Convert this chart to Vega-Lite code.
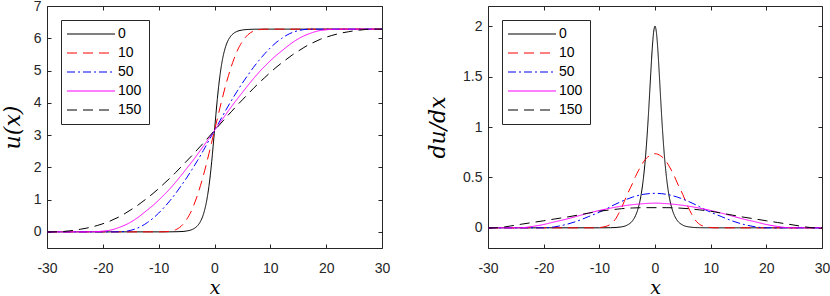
{
"$schema": "https://vega.github.io/schema/vega-lite/v6.json",
"background": "white",
"padding": {"left": 0, "top": -2, "right": 5, "bottom": 0},
"datasets": {
"u": [
{"t":"0","x":-30,"y":0},{"t":"0","x":-10,"y":0.0002},{"t":"0","x":-8,"y":0.0013},{"t":"0","x":-6,"y":0.0099},{"t":"0","x":-5,"y":0.027},{"t":"0","x":-4,"y":0.073},{"t":"0","x":-3.5,"y":0.121},{"t":"0","x":-3,"y":0.199},{"t":"0","x":-2.5,"y":0.327},{"t":"0","x":-2,"y":0.538},{"t":"0","x":-1.5,"y":0.878},{"t":"0","x":-1.25,"y":1.116},{"t":"0","x":-1,"y":1.41},{"t":"0","x":-0.75,"y":1.764},{"t":"0","x":-0.5,"y":2.181},{"t":"0","x":-0.25,"y":2.648},{"t":"0","x":0,"y":3.142},{"t":"0","x":0.25,"y":3.636},{"t":"0","x":0.5,"y":4.102},{"t":"0","x":0.75,"y":4.519},{"t":"0","x":1,"y":4.873},{"t":"0","x":1.25,"y":5.168},{"t":"0","x":1.5,"y":5.405},{"t":"0","x":2,"y":5.745},{"t":"0","x":2.5,"y":5.956},{"t":"0","x":3,"y":6.084},{"t":"0","x":3.5,"y":6.162},{"t":"0","x":4,"y":6.21},{"t":"0","x":5,"y":6.256},{"t":"0","x":6,"y":6.273},{"t":"0","x":8,"y":6.282},{"t":"0","x":10,"y":6.283},{"t":"0","x":30,"y":6.283},
{"t":"10","x":-30,"y":0},{"t":"10","x":-11,"y":0},{"t":"10","x":-10,"y":0.0002},{"t":"10","x":-9,"y":0.002},{"t":"10","x":-8,"y":0.017},{"t":"10","x":-7,"y":0.062},{"t":"10","x":-6,"y":0.172},{"t":"10","x":-5,"y":0.382},{"t":"10","x":-4,"y":0.702},{"t":"10","x":-3.5,"y":0.922},{"t":"10","x":-3,"y":1.162},{"t":"10","x":-2.5,"y":1.442},{"t":"10","x":-2,"y":1.742},{"t":"10","x":-1.5,"y":2.072},{"t":"10","x":-1,"y":2.422},{"t":"10","x":-0.5,"y":2.782},{"t":"10","x":0,"y":3.142},{"t":"10","x":0.5,"y":3.502},{"t":"10","x":1,"y":3.862},{"t":"10","x":1.5,"y":4.212},{"t":"10","x":2,"y":4.542},{"t":"10","x":2.5,"y":4.842},{"t":"10","x":3,"y":5.122},{"t":"10","x":3.5,"y":5.362},{"t":"10","x":4,"y":5.582},{"t":"10","x":5,"y":5.902},{"t":"10","x":6,"y":6.112},{"t":"10","x":7,"y":6.222},{"t":"10","x":8,"y":6.267},{"t":"10","x":9,"y":6.282},{"t":"10","x":10,"y":6.283},{"t":"10","x":30,"y":6.283},
{"t":"50","x":-30,"y":0},{"t":"50","x":-18,"y":0},{"t":"50","x":-17,"y":0.002},{"t":"50","x":-16,"y":0.015},{"t":"50","x":-15,"y":0.047},{"t":"50","x":-14,"y":0.102},{"t":"50","x":-13,"y":0.182},{"t":"50","x":-12,"y":0.292},{"t":"50","x":-11,"y":0.422},{"t":"50","x":-10,"y":0.582},{"t":"50","x":-9,"y":0.762},{"t":"50","x":-8,"y":0.962},{"t":"50","x":-7,"y":1.182},{"t":"50","x":-6,"y":1.422},{"t":"50","x":-5,"y":1.672},{"t":"50","x":-4,"y":1.942},{"t":"50","x":-3,"y":2.222},{"t":"50","x":-2,"y":2.522},{"t":"50","x":-1,"y":2.832},{"t":"50","x":0,"y":3.142},{"t":"50","x":1,"y":3.452},{"t":"50","x":2,"y":3.762},{"t":"50","x":3,"y":4.062},{"t":"50","x":4,"y":4.342},{"t":"50","x":5,"y":4.612},{"t":"50","x":6,"y":4.862},{"t":"50","x":7,"y":5.102},{"t":"50","x":8,"y":5.322},{"t":"50","x":9,"y":5.522},{"t":"50","x":10,"y":5.702},{"t":"50","x":11,"y":5.862},{"t":"50","x":12,"y":5.992},{"t":"50","x":13,"y":6.102},{"t":"50","x":14,"y":6.182},{"t":"50","x":15,"y":6.237},{"t":"50","x":16,"y":6.269},{"t":"50","x":17,"y":6.282},{"t":"50","x":18,"y":6.283},{"t":"50","x":30,"y":6.283},
{"t":"100","x":-30,"y":0},{"t":"100","x":-23,"y":0},{"t":"100","x":-22,"y":0.002},{"t":"100","x":-21,"y":0.007},{"t":"100","x":-20,"y":0.022},{"t":"100","x":-19,"y":0.042},{"t":"100","x":-18,"y":0.082},{"t":"100","x":-17,"y":0.142},{"t":"100","x":-16,"y":0.212},{"t":"100","x":-15,"y":0.302},{"t":"100","x":-14,"y":0.412},{"t":"100","x":-13,"y":0.542},{"t":"100","x":-12,"y":0.682},{"t":"100","x":-11,"y":0.822},{"t":"100","x":-10,"y":0.982},{"t":"100","x":-9,"y":1.152},{"t":"100","x":-8,"y":1.332},{"t":"100","x":-7,"y":1.532},{"t":"100","x":-6,"y":1.742},{"t":"100","x":-5,"y":1.962},{"t":"100","x":-4,"y":2.182},{"t":"100","x":-3,"y":2.412},{"t":"100","x":-2,"y":2.652},{"t":"100","x":-1,"y":2.897},{"t":"100","x":0,"y":3.142},{"t":"100","x":1,"y":3.387},{"t":"100","x":2,"y":3.632},{"t":"100","x":3,"y":3.872},{"t":"100","x":4,"y":4.102},{"t":"100","x":5,"y":4.322},{"t":"100","x":6,"y":4.542},{"t":"100","x":7,"y":4.752},{"t":"100","x":8,"y":4.952},{"t":"100","x":9,"y":5.132},{"t":"100","x":10,"y":5.302},{"t":"100","x":11,"y":5.462},{"t":"100","x":12,"y":5.602},{"t":"100","x":13,"y":5.742},{"t":"100","x":14,"y":5.872},{"t":"100","x":15,"y":5.982},{"t":"100","x":16,"y":6.072},{"t":"100","x":17,"y":6.142},{"t":"100","x":18,"y":6.202},{"t":"100","x":19,"y":6.242},{"t":"100","x":20,"y":6.262},{"t":"100","x":21,"y":6.277},{"t":"100","x":22,"y":6.282},{"t":"100","x":23,"y":6.283},{"t":"100","x":30,"y":6.283},
{"t":"150","x":-30,"y":0},{"t":"150","x":-29,"y":0},{"t":"150","x":-28,"y":0.002},{"t":"150","x":-27,"y":0.012},{"t":"150","x":-26,"y":0.032},{"t":"150","x":-25,"y":0.052},{"t":"150","x":-24,"y":0.082},{"t":"150","x":-23,"y":0.112},{"t":"150","x":-22,"y":0.152},{"t":"150","x":-21,"y":0.197},{"t":"150","x":-20,"y":0.252},{"t":"150","x":-19,"y":0.312},{"t":"150","x":-18,"y":0.392},{"t":"150","x":-17,"y":0.472},{"t":"150","x":-16,"y":0.572},{"t":"150","x":-15,"y":0.682},{"t":"150","x":-14,"y":0.792},{"t":"150","x":-13,"y":0.922},{"t":"150","x":-12,"y":1.052},{"t":"150","x":-11,"y":1.192},{"t":"150","x":-10,"y":1.342},{"t":"150","x":-9,"y":1.502},{"t":"150","x":-8,"y":1.662},{"t":"150","x":-7,"y":1.832},{"t":"150","x":-6,"y":2.012},{"t":"150","x":-5,"y":2.192},{"t":"150","x":-4,"y":2.372},{"t":"150","x":-3,"y":2.562},{"t":"150","x":-2,"y":2.752},{"t":"150","x":-1,"y":2.947},{"t":"150","x":0,"y":3.142},{"t":"150","x":1,"y":3.337},{"t":"150","x":2,"y":3.532},{"t":"150","x":3,"y":3.722},{"t":"150","x":4,"y":3.912},{"t":"150","x":5,"y":4.092},{"t":"150","x":6,"y":4.272},{"t":"150","x":7,"y":4.452},{"t":"150","x":8,"y":4.622},{"t":"150","x":9,"y":4.782},{"t":"150","x":10,"y":4.942},{"t":"150","x":11,"y":5.092},{"t":"150","x":12,"y":5.232},{"t":"150","x":13,"y":5.362},{"t":"150","x":14,"y":5.492},{"t":"150","x":15,"y":5.602},{"t":"150","x":16,"y":5.712},{"t":"150","x":17,"y":5.812},{"t":"150","x":18,"y":5.892},{"t":"150","x":19,"y":5.972},{"t":"150","x":20,"y":6.032},{"t":"150","x":21,"y":6.087},{"t":"150","x":22,"y":6.132},{"t":"150","x":23,"y":6.172},{"t":"150","x":24,"y":6.202},{"t":"150","x":25,"y":6.232},{"t":"150","x":26,"y":6.252},{"t":"150","x":27,"y":6.272},{"t":"150","x":28,"y":6.282},{"t":"150","x":29,"y":6.283},{"t":"150","x":30,"y":6.283}
],
"du": [
{"t":"0","x":-30,"y":0},{"t":"0","x":-10,"y":0.0002},{"t":"0","x":-8,"y":0.0013},{"t":"0","x":-6,"y":0.0099},{"t":"0","x":-5,"y":0.027},{"t":"0","x":-4,"y":0.073},{"t":"0","x":-3.5,"y":0.121},{"t":"0","x":-3,"y":0.199},{"t":"0","x":-2.5,"y":0.326},{"t":"0","x":-2,"y":0.532},{"t":"0","x":-1.75,"y":0.674},{"t":"0","x":-1.5,"y":0.85},{"t":"0","x":-1.25,"y":1.059},{"t":"0","x":-1,"y":1.296},{"t":"0","x":-0.75,"y":1.545},{"t":"0","x":-0.5,"y":1.774},{"t":"0","x":-0.25,"y":1.939},{"t":"0","x":0,"y":2},{"t":"0","x":0.25,"y":1.939},{"t":"0","x":0.5,"y":1.774},{"t":"0","x":0.75,"y":1.545},{"t":"0","x":1,"y":1.296},{"t":"0","x":1.25,"y":1.059},{"t":"0","x":1.5,"y":0.85},{"t":"0","x":1.75,"y":0.674},{"t":"0","x":2,"y":0.532},{"t":"0","x":2.5,"y":0.326},{"t":"0","x":3,"y":0.199},{"t":"0","x":3.5,"y":0.121},{"t":"0","x":4,"y":0.073},{"t":"0","x":5,"y":0.027},{"t":"0","x":6,"y":0.0099},{"t":"0","x":8,"y":0.0013},{"t":"0","x":10,"y":0.0002},{"t":"0","x":30,"y":0},
{"t":"10","x":-30,"y":0},{"t":"10","x":-11,"y":0},{"t":"10","x":-10,"y":0.003},{"t":"10","x":-9,"y":0.012},{"t":"10","x":-8,"y":0.035},{"t":"10","x":-7.5,"y":0.06},{"t":"10","x":-7,"y":0.095},{"t":"10","x":-6.5,"y":0.145},{"t":"10","x":-6,"y":0.2},{"t":"10","x":-5.5,"y":0.265},{"t":"10","x":-5,"y":0.33},{"t":"10","x":-4,"y":0.445},{"t":"10","x":-3.5,"y":0.51},{"t":"10","x":-3,"y":0.565},{"t":"10","x":-2.5,"y":0.615},{"t":"10","x":-2,"y":0.66},{"t":"10","x":-1,"y":0.715},{"t":"10","x":0,"y":0.735},{"t":"10","x":1,"y":0.715},{"t":"10","x":2,"y":0.66},{"t":"10","x":2.5,"y":0.615},{"t":"10","x":3,"y":0.565},{"t":"10","x":3.5,"y":0.51},{"t":"10","x":4,"y":0.445},{"t":"10","x":5,"y":0.33},{"t":"10","x":5.5,"y":0.265},{"t":"10","x":6,"y":0.2},{"t":"10","x":6.5,"y":0.145},{"t":"10","x":7,"y":0.095},{"t":"10","x":7.5,"y":0.06},{"t":"10","x":8,"y":0.035},{"t":"10","x":9,"y":0.012},{"t":"10","x":10,"y":0.003},{"t":"10","x":11,"y":0},{"t":"10","x":30,"y":0},
{"t":"50","x":-30,"y":0},{"t":"50","x":-20,"y":0},{"t":"50","x":-19,"y":0.003},{"t":"50","x":-18,"y":0.01},{"t":"50","x":-16,"y":0.033},{"t":"50","x":-14,"y":0.066},{"t":"50","x":-12,"y":0.11},{"t":"50","x":-10,"y":0.155},{"t":"50","x":-9,"y":0.18},{"t":"50","x":-8,"y":0.21},{"t":"50","x":-6,"y":0.262},{"t":"50","x":-4,"y":0.305},{"t":"50","x":-2,"y":0.333},{"t":"50","x":0,"y":0.342},{"t":"50","x":2,"y":0.333},{"t":"50","x":4,"y":0.305},{"t":"50","x":6,"y":0.262},{"t":"50","x":8,"y":0.21},{"t":"50","x":9,"y":0.18},{"t":"50","x":10,"y":0.155},{"t":"50","x":12,"y":0.11},{"t":"50","x":14,"y":0.066},{"t":"50","x":16,"y":0.033},{"t":"50","x":18,"y":0.01},{"t":"50","x":19,"y":0.003},{"t":"50","x":20,"y":0},{"t":"50","x":30,"y":0},
{"t":"100","x":-30,"y":0},{"t":"100","x":-25,"y":0},{"t":"100","x":-24,"y":0.001},{"t":"100","x":-23,"y":0.006},{"t":"100","x":-22,"y":0.014},{"t":"100","x":-20,"y":0.033},{"t":"100","x":-18,"y":0.06},{"t":"100","x":-16,"y":0.085},{"t":"100","x":-14,"y":0.115},{"t":"100","x":-12,"y":0.145},{"t":"100","x":-10,"y":0.172},{"t":"100","x":-8,"y":0.195},{"t":"100","x":-6,"y":0.215},{"t":"100","x":-4,"y":0.23},{"t":"100","x":-2,"y":0.24},{"t":"100","x":0,"y":0.245},{"t":"100","x":2,"y":0.24},{"t":"100","x":4,"y":0.23},{"t":"100","x":6,"y":0.215},{"t":"100","x":8,"y":0.195},{"t":"100","x":10,"y":0.172},{"t":"100","x":12,"y":0.145},{"t":"100","x":14,"y":0.115},{"t":"100","x":16,"y":0.085},{"t":"100","x":18,"y":0.06},{"t":"100","x":20,"y":0.033},{"t":"100","x":22,"y":0.014},{"t":"100","x":23,"y":0.006},{"t":"100","x":24,"y":0.001},{"t":"100","x":25,"y":0},{"t":"100","x":30,"y":0},
{"t":"150","x":-30,"y":0},{"t":"150","x":-29,"y":0},{"t":"150","x":-28,"y":0.002},{"t":"150","x":-27,"y":0.009},{"t":"150","x":-26,"y":0.018},{"t":"150","x":-24,"y":0.036},{"t":"150","x":-22,"y":0.053},{"t":"150","x":-20,"y":0.07},{"t":"150","x":-18,"y":0.088},{"t":"150","x":-16,"y":0.105},{"t":"150","x":-14,"y":0.125},{"t":"150","x":-12,"y":0.145},{"t":"150","x":-10,"y":0.165},{"t":"150","x":-8,"y":0.178},{"t":"150","x":-6,"y":0.19},{"t":"150","x":-4,"y":0.197},{"t":"150","x":-2,"y":0.2},{"t":"150","x":0,"y":0.2},{"t":"150","x":2,"y":0.2},{"t":"150","x":4,"y":0.197},{"t":"150","x":6,"y":0.19},{"t":"150","x":8,"y":0.178},{"t":"150","x":10,"y":0.165},{"t":"150","x":12,"y":0.145},{"t":"150","x":14,"y":0.125},{"t":"150","x":16,"y":0.105},{"t":"150","x":18,"y":0.088},{"t":"150","x":20,"y":0.07},{"t":"150","x":22,"y":0.053},{"t":"150","x":24,"y":0.036},{"t":"150","x":26,"y":0.018},{"t":"150","x":27,"y":0.009},{"t":"150","x":28,"y":0.002},{"t":"150","x":29,"y":0},{"t":"150","x":30,"y":0}
]
},
"hconcat": [
{
"width": 335, "height": 242,
"data": {"name": "u"},
"layer": [
{
"mark": {"type": "line", "strokeWidth": 1, "interpolate": "monotone", "clip": true},
"encoding": {
"x": {"field": "x", "type": "quantitative", "scale": {"domain": [-30, 30], "nice": false}, "axis": {"orient": "bottom", "values": [-30,-20,-10,0,10,20,30], "labelExpr": "toString(datum.value)", "title": "x", "labelPadding": 17, "titlePadding": 3, "titleFontSize": 19}},
"y": {"field": "y", "type": "quantitative", "scale": {"domain": [-0.5, 7], "nice": false, "zero": false}, "axis": {"orient": "left", "values": [0,1,2,3,4,5,6,7], "labelExpr": "toString(datum.value)", "title": "u(x)", "titlePadding": 9}},
"color": {"field": "t", "type": "nominal", "title": null, "scale": {"domain": ["0","10","50","100","150"], "range": ["#000000","#ff0000","#0000ff","#ff00ff","#000000"]}},
"strokeDash": {"field": "t", "type": "nominal", "title": null, "scale": {"domain": ["0","10","50","100","150"], "range": [[1,0],[10,6],[8,3,2,3],[1,0],[10,6]]}}
}
},
{
"mark": {"type": "line", "opacity": 0},
"encoding": {
"x": {"field": "x", "type": "quantitative", "axis": {"orient": "top", "values": [-30,-20,-10,0,10,20,30], "labels": false, "title": null}},
"y": {"field": "y", "type": "quantitative", "axis": {"orient": "right", "values": [0,1,2,3,4,5,6,7], "labels": false, "title": null}}
}
}
],
"resolve": {"axis": {"x": "independent", "y": "independent"}}
},
{
"width": 334, "height": 242,
"data": {"name": "du"},
"layer": [
{
"mark": {"type": "line", "strokeWidth": 1, "interpolate": "monotone", "clip": true},
"encoding": {
"x": {"field": "x", "type": "quantitative", "scale": {"domain": [-30, 30], "nice": false}, "axis": {"orient": "bottom", "values": [-30,-20,-10,0,10,20,30], "labelExpr": "toString(datum.value)", "title": "x", "labelPadding": 17, "titlePadding": 3, "titleFontSize": 19}},
"y": {"field": "y", "type": "quantitative", "scale": {"domain": [-0.2, 2.2], "nice": false, "zero": false}, "axis": {"orient": "left", "values": [0,0.5,1,1.5,2], "labelExpr": "toString(datum.value)", "title": "du/dx", "titlePadding": 13}},
"color": {"field": "t", "type": "nominal", "title": null, "scale": {"domain": ["0","10","50","100","150"], "range": ["#000000","#ff0000","#0000ff","#ff00ff","#000000"]}},
"strokeDash": {"field": "t", "type": "nominal", "title": null, "scale": {"domain": ["0","10","50","100","150"], "range": [[1,0],[10,6],[8,3,2,3],[1,0],[10,6]]}}
}
},
{
"mark": {"type": "line", "opacity": 0},
"encoding": {
"x": {"field": "x", "type": "quantitative", "axis": {"orient": "top", "values": [-30,-20,-10,0,10,20,30], "labels": false, "title": null}},
"y": {"field": "y", "type": "quantitative", "axis": {"orient": "right", "values": [0,0.5,1,1.5,2], "labels": false, "title": null}}
}
}
],
"resolve": {"axis": {"x": "independent", "y": "independent"}}
}
],
"spacing": 106,
"bounds": "flush",
"resolve": {"scale": {"color": "independent", "strokeDash": "independent"}},
"config": {
"view": {"stroke": "#262626", "strokeWidth": 1},
"axis": {"domain": false, "grid": false, "tickSize": -4, "tickColor": "#262626", "labelFlush": false, "labelOverlap": false, "labelFont": "Liberation Sans", "labelFontSize": 14, "labelColor": "#262626", "labelPadding": 10, "titleFont": "DejaVu Serif", "titleFontStyle": "italic", "titleFontWeight": "normal", "titleFontSize": 22, "titleColor": "black", "titlePadding": 9},
"legend": {"orient": "top-left", "offset": 14, "padding": 7, "strokeColor": "#262626", "fillColor": "white", "symbolType": "M-4,0H4", "symbolSize": 144, "symbolOffset": 16, "symbolStrokeWidth": 1, "labelFont": "Liberation Sans", "labelFontSize": 14, "labelColor": "black", "labelOffset": 20, "rowPadding": 5}
}
}
